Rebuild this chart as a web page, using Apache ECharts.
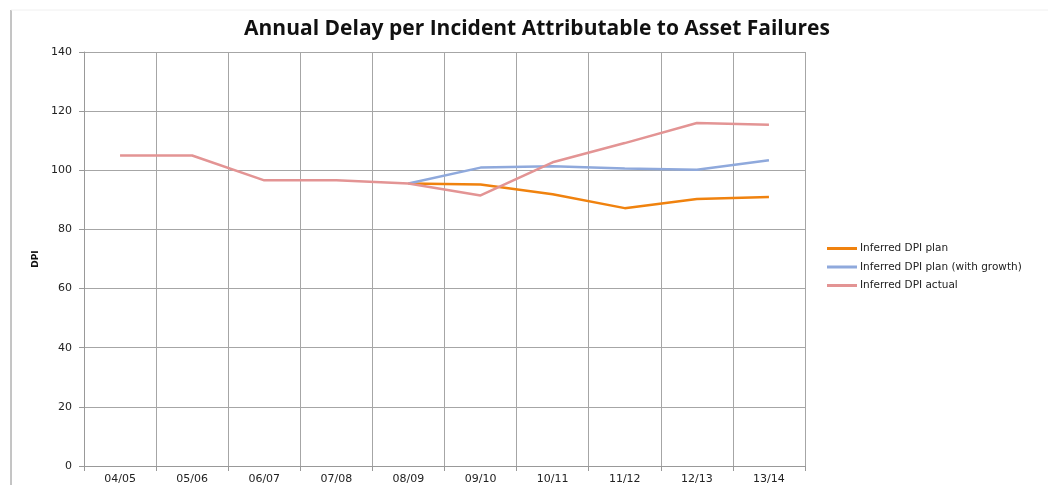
<!DOCTYPE html>
<html>
<head>
<meta charset="utf-8">
<script src="https://cdn.jsdelivr.net/npm/echarts@6/dist/echarts.min.js"></script>
<style>
  html, body { margin: 0; padding: 0; background: #fff; }
  #chart { width: 1048px; height: 485px; }
</style>
</head>
<body>
<div id="chart"></div>
<script>
// data
var years = ["04/05", "05/06", "06/07", "07/08", "08/09", "09/10", "10/11", "11/12", "12/13", "13/14"];
var dpiPlan = [null, null, null, null, 95.5, 95.2, 91.9, 87.2, 90.3, 91.0];
var dpiPlanGrowth = [null, null, null, null, 95.5, 100.9, 101.4, 100.6, 100.2, 103.4];
var dpiActual = [105.0, 105.0, 96.6, 96.6, 95.5, 91.5, 102.7, 109.2, 116.0, 115.4];
var yTicks = { min: 0, max: 140, interval: 20 };

var chart = echarts.init(document.getElementById("chart"));

var option = {
  backgroundColor: "#fff",
  animation: false,
  title: {
    text: "Annual Delay per Incident Attributable to Asset Failures",
    left: 532,
    textAlign: "center",
    top: 14,
    textStyle: {
      fontFamily: "Open Sans",
      fontWeight: "bold",
      fontSize: 21,
      color: "#111"
    }
  },
  // outer chart frame (left + top edges only visible)
  graphic: [
    { type: "line", shape: { x1: 11, y1: 10, x2: 11, y2: 485 }, style: { stroke: "#8a8a8a", lineWidth: 1 } },
    { type: "line", shape: { x1: 11, y1: 10, x2: 1048, y2: 10 }, style: { stroke: "#f0f0f0", lineWidth: 1 } }
  ],
  legend: {
    orient: "vertical",
    left: 827,
    top: 243,
    padding: 0,
    itemWidth: 30,
    itemHeight: 3,
    itemGap: 7.5,
    icon: "rect",
    textStyle: { fontFamily: "DejaVu Sans", fontSize: 10.5, color: "#222", padding: [0, 0, 0, -2] },
    data: ["Inferred DPI plan", "Inferred DPI plan (with growth)", "Inferred DPI actual"]
  },
  grid: { left: 84, right: 243, top: 52, bottom: 19 },
  xAxis: {
    type: "category",
    data: years,
    boundaryGap: true,
    axisLine: { lineStyle: { color: "#999", width: 1 } },
    axisTick: { show: true, length: 5, lineStyle: { color: "#999" } },
    axisLabel: { fontFamily: "DejaVu Sans", fontSize: 11, color: "#222", margin: 8 },
    splitLine: { show: true, lineStyle: { color: "#a6a6a6", width: 1 } }
  },
  yAxis: {
    type: "value",
    min: yTicks.min,
    max: yTicks.max,
    interval: yTicks.interval,
    name: "DPI",
    nameLocation: "middle",
    nameGap: 43,
    nameRotate: 90,
    nameTextStyle: { fontFamily: "DejaVu Sans", fontWeight: "bold", fontSize: 9, color: "#111" },
    axisLine: { show: true, lineStyle: { color: "#999", width: 1 } },
    axisTick: { show: true, length: 5, lineStyle: { color: "#999" } },
    axisLabel: { fontFamily: "DejaVu Sans", fontSize: 11, color: "#222", margin: 12 },
    splitLine: { show: true, lineStyle: { color: "#a6a6a6", width: 1 } }
  },
  series: [
    {
      name: "Inferred DPI plan",
      type: "line",
      data: dpiPlan,
      symbol: "none",
      lineStyle: { color: "#f0820e", width: 2.5 },
      itemStyle: { color: "#f0820e" }
    },
    {
      name: "Inferred DPI plan (with growth)",
      type: "line",
      data: dpiPlanGrowth,
      symbol: "none",
      lineStyle: { color: "#8fa9dc", width: 2.5 },
      itemStyle: { color: "#8fa9dc" }
    },
    {
      name: "Inferred DPI actual",
      type: "line",
      data: dpiActual,
      symbol: "none",
      lineStyle: { color: "#e39494", width: 2.5 },
      itemStyle: { color: "#e39494" }
    }
  ]
};

chart.setOption(option);
</script>
</body>
</html>
